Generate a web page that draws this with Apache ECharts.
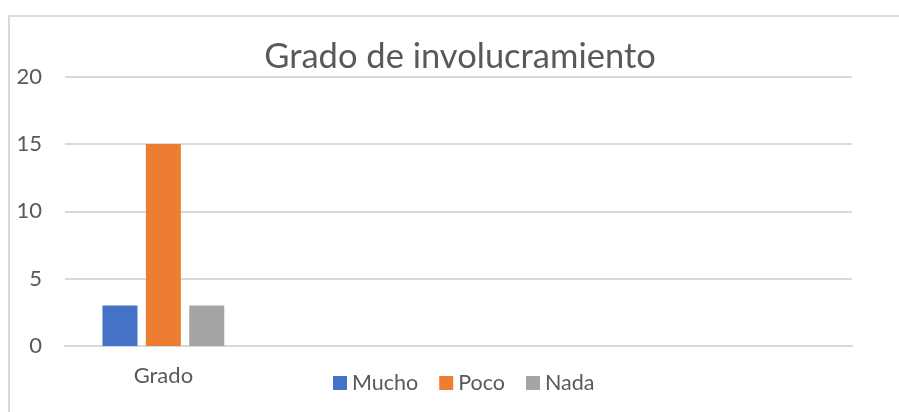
<!DOCTYPE html>
<html>
<head>
<meta charset="utf-8">
<script src="https://cdn.jsdelivr.net/npm/echarts@6/dist/echarts.min.js"></script>
<style>html,body{margin:0;padding:0;background:#fff}#c{width:899px;height:412px}</style>
</head>
<body>
<div id="c"></div>
<script>
const categories = ['Grado', '', '', ''];
const mucho = [3, null, null, null];
const poco = [15, null, null, null];
const nada = [3, null, null, null];
const seriesNames = ['Mucho', 'Poco', 'Nada'];
const yTicks = [0, 5, 10, 15, 20];

const FONT = 'Lato';
const TXT = '#595959';
const chart = echarts.init(document.getElementById('c'), null, {renderer: 'canvas'});
chart.setOption({
  animation: false,
  backgroundColor: '#fff',
  title: {
    text: 'Grado de involucramiento',
    left: 460, top: 39, textAlign: 'center', padding: 0,
    textStyle: {fontFamily: FONT, fontSize: 34.5, fontWeight: 'normal', color: TXT}
  },
  legend: {
    data: seriesNames, left: 333, top: 372, padding: 0,
    icon: 'rect', itemWidth: 14, itemHeight: 14, itemGap: 21,
    textStyle: {fontFamily: FONT, fontSize: 21.5, color: TXT}
  },
  grid: {left: 65, right: 47, top: 76.5, bottom: 66, containLabel: false},
  xAxis: {
    type: 'category', data: categories,
    axisLine: {show: true, lineStyle: {color: '#d9d9d9', width: 2}},
    axisTick: {show: false},
    axisLabel: {fontFamily: FONT, fontSize: 22, color: TXT, margin: 19}
  },
  yAxis: {
    type: 'value', min: yTicks[0], max: yTicks[yTicks.length - 1], interval: 5,
    axisLine: {show: false}, axisTick: {show: false},
    splitLine: {lineStyle: {color: '#d9d9d9', width: 2}},
    axisLabel: {fontFamily: FONT, fontSize: 22, color: TXT, margin: 23}
  },
  graphic: [
    {type: 'line', shape: {x1: 8, y1: 16, x2: 899, y2: 16}, style: {stroke: '#d9d9d9', lineWidth: 2}, silent: true},
    {type: 'line', shape: {x1: 9, y1: 15, x2: 9, y2: 412}, style: {stroke: '#d9d9d9', lineWidth: 2}, silent: true}
  ],
  series: [
    {name: seriesNames[0], type: 'bar', data: mucho, barWidth: 35, barGap: '24%', itemStyle: {color: '#4472C4'}},
    {name: seriesNames[1], type: 'bar', data: poco, barWidth: 35, barGap: '24%', itemStyle: {color: '#ED7D31'}},
    {name: seriesNames[2], type: 'bar', data: nada, barWidth: 35, barGap: '24%', itemStyle: {color: '#A5A5A5'}}
  ]
});
</script>
</body>
</html>
